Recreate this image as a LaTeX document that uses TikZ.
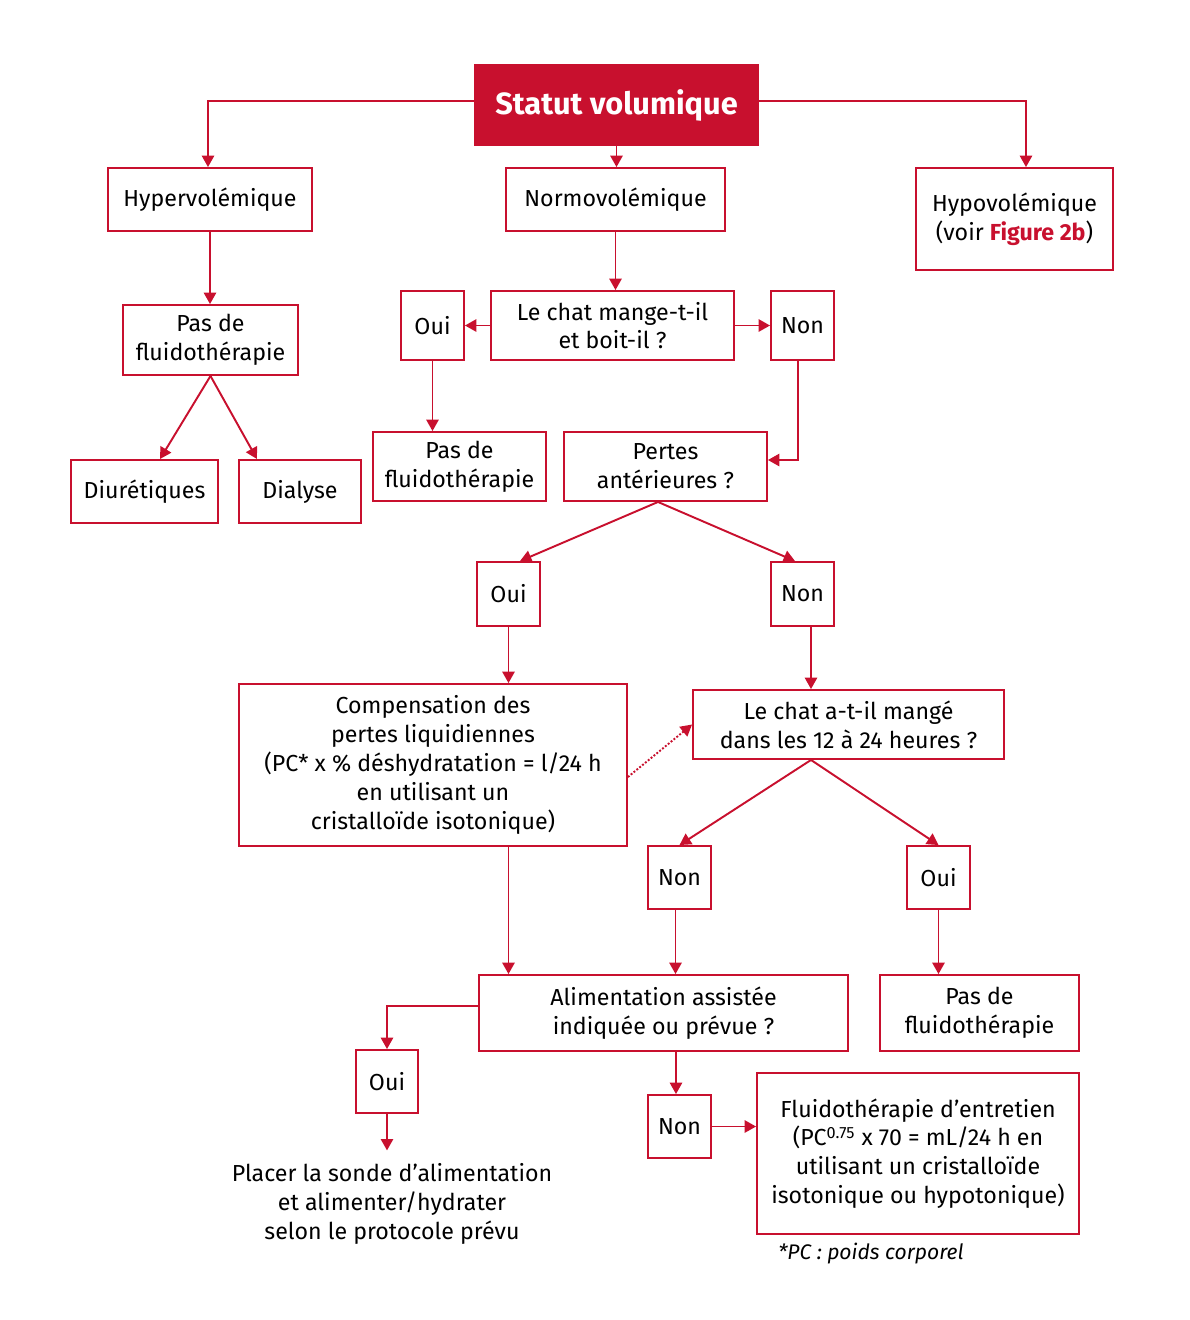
\documentclass[tikz,border=0pt]{standalone}
\usepackage{fontspec}
\setmainfont{Fira Sans}
\usetikzlibrary{arrows.meta}
\definecolor{cred}{RGB}{200,16,46}
\begin{document}
\begin{tikzpicture}[x=0.02cm,y=-0.02cm,
  box/.style={draw=cred, line width=1.1pt, align=center, inner sep=0pt,
    font=\fontsize{13.2}{16.4}\selectfont},
  yn/.style={box, minimum width=1.26cm, minimum height=1.26cm},
  arr/.style={draw=cred, line width=1.1pt, -{Triangle[length=6.5pt,width=7pt]}}]
\useasboundingbox (0,0) rectangle (1190,1320);

% top of the tree
\node[box, fill=cred, text=white, minimum width=5.66cm, minimum height=1.6cm,
  font=\fontsize{17.5}{20}\selectfont\bfseries] (statut) at (616.5,105) {Statut volumique};
\node[box, minimum width=4.08cm, minimum height=1.26cm] (hyper) at (210,199.5) {Hypervolémique};
\node[box, minimum width=4.38cm, minimum height=1.26cm] (normo) at (615.5,199.5) {Normovolémique};
\node[box, minimum width=3.94cm, minimum height=2.04cm] (hypo) at (1014.5,219)
  {Hypovolémique\\(voir \textcolor{cred}{\bfseries Figure 2b})};

% hypervolemic branch
\node[box, minimum width=3.5cm, minimum height=1.4cm] (pasA) at (210.5,340) {Pas de\\fluidothérapie};
\node[box, minimum width=2.94cm, minimum height=1.26cm] (diur) at (144.5,491.5) {Diurétiques};
\node[box, minimum width=2.44cm, minimum height=1.26cm] (dial) at (300,491.5) {Dialyse};

% normovolemic branch
\node[box, minimum width=4.86cm, minimum height=1.38cm] (mange) at (612.5,325.5) {Le chat mange-t-il\\et boit-il ?};
\node[yn, minimum height=1.38cm] (ouiA) at (432.5,325.5) {Oui};
\node[yn, minimum height=1.38cm] (nonA) at (802.5,325.5) {Non};
\node[box, minimum width=3.46cm, minimum height=1.38cm] (pasB) at (459.5,466.5) {Pas de\\fluidothérapie};
\node[box, minimum width=4.06cm, minimum height=1.38cm] (pertes) at (665.5,466.5) {Pertes\\antérieures ?};
\node[yn, minimum height=1.28cm] (ouiB) at (508.5,594) {Oui};
\node[yn, minimum height=1.28cm] (nonB) at (802.5,594) {Non};
\node[box, minimum width=7.76cm, minimum height=3.24cm] (comp) at (433,765)
  {Compensation des\\pertes liquidiennes\\(PC* x \% déshydratation = l/24 h\\en utilisant un\\cristalloïde isotonique)};
\node[box, minimum width=6.22cm, minimum height=1.38cm] (mange2) at (848.5,724.5) {Le chat a-t-il mangé\\dans les 12 à 24 heures ?};
\node[yn] (nonC) at (679.5,877.5) {Non};
\node[yn] (ouiC) at (938.5,877.5) {Oui};
\node[box, minimum width=7.38cm, minimum height=1.52cm] (alim) at (663.5,1013) {Alimentation assistée\\indiquée ou prévue ?};
\node[box, minimum width=3.98cm, minimum height=1.52cm] (pasC) at (979.5,1013) {Pas de\\fluidothérapie};
\node[yn, minimum width=1.24cm] (ouiD) at (387,1081.5) {Oui};
\node[yn] (nonD) at (679.5,1126.5) {Non};
\node[box, draw=none, inner sep=7pt] (placer) at (392,1204)
  {Placer la sonde d'alimentation\\et alimenter/hydrater\\selon le protocole prévu};
\node[box, minimum width=6.44cm, minimum height=3.22cm] (entr) at (918,1153.5)
  {Fluidothérapie d'entretien\\(PC\textsuperscript{0.75} x 70 = mL/24 h en\\utilisant un cristalloïde\\isotonique ou hypotonique)};
\node[anchor=west, inner sep=0pt, font=\fontsize{12}{14}\selectfont\itshape] (note) at (778,1254) {*PC : poids corporel};

% connectors
\draw[arr] ([yshift=0.08cm]statut.west) -| ([xshift=-0.04cm]hyper.north);
\draw[arr] ([yshift=0.08cm]statut.east) -| ([xshift=0.23cm]hypo.north);
\draw[arr] (statut.south) -- (statut.south |- normo.north);
\draw[arr] (hyper.south) -- (hyper.south |- pasA.north);
\draw[arr] (pasA.south) -- ([xshift=0.31cm]diur.north);
\draw[arr] (pasA.south) -- ([xshift=-0.86cm]dial.north);
\draw[arr] (normo.south) -- (normo.south |- mange.north);
\draw[arr] (mange.west) -- (ouiA.east);
\draw[arr] (mange.east) -- (nonA.west);
\draw[arr] (ouiA.south) -- (ouiA.south |- pasB.north);
\draw[arr] ([xshift=-0.09cm]nonA.south) |- ([yshift=0.13cm]pertes.east);
\draw[arr] ([xshift=-0.15cm]pertes.south) -- ([xshift=0.23cm]ouiB.north);
\draw[arr] ([xshift=-0.15cm]pertes.south) -- ([xshift=-0.15cm]nonB.north);
\draw[arr] (ouiB.south) -- (ouiB.south |- comp.north);
\draw[arr] ([xshift=0.17cm]nonB.south) -- ([xshift=0.17cm]nonB.south |- mange2.north);
\draw[arr, densely dotted] ([yshift=-0.24cm]comp.east) -- (mange2.west);
\draw[arr] ([xshift=0.17cm]nonB.south |- mange2.south) -- (nonC.north);
\draw[arr] ([xshift=0.17cm]nonB.south |- mange2.south) -- (ouiC.north);
\draw[arr] ([xshift=-0.08cm]nonC.south) -- ([xshift=-0.08cm]nonC.south |- alim.north);
\draw[arr] (ouiC.south) -- (ouiC.south |- pasC.north);
\draw[arr] (ouiB.south |- comp.south) -- (ouiB.south |- alim.north);
\draw[arr] ([yshift=0.14cm]alim.west) -| (ouiD.north);
\draw[arr] (ouiD.south) -- (ouiD.south |- placer.north);
\draw[arr] ([xshift=-0.07cm]nonD.north |- alim.south) -- ([xshift=-0.07cm]nonD.north);
\draw[arr] (nonD.east) -- (nonD.east -| entr.west);
\end{tikzpicture}
\end{document}
